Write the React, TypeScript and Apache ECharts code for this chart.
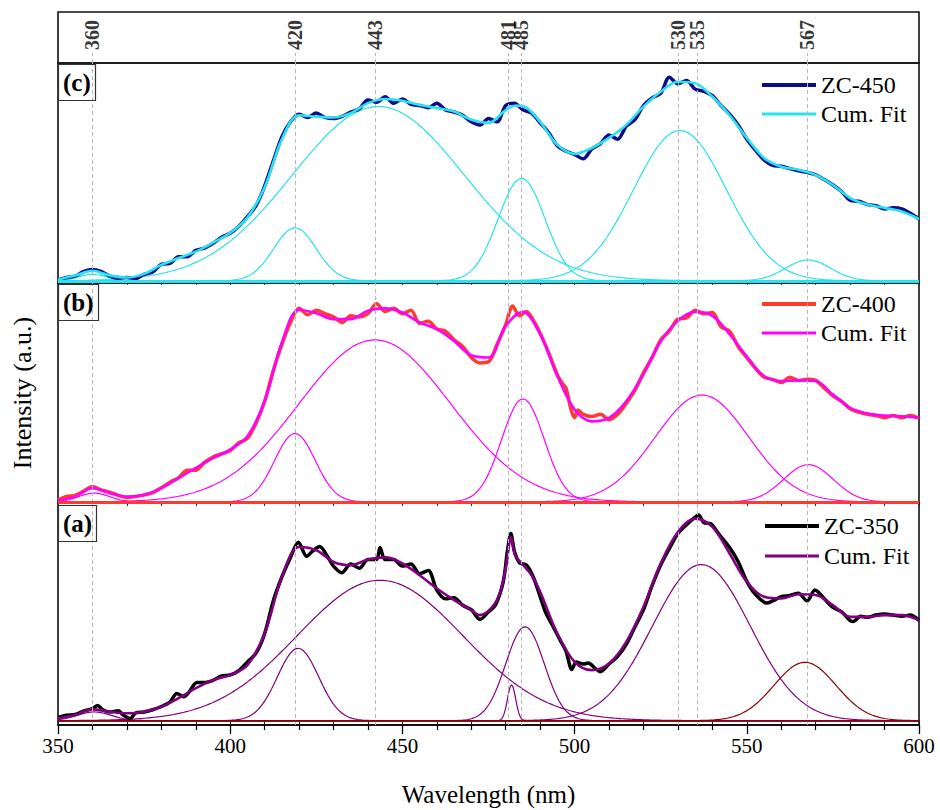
import React, { useEffect, useRef } from 'react';
import * as echarts from 'echarts';

const FONT = 'Liberation Serif';

// positions of the dashed marker lines (nm) and their printed labels
const peakLines = [360, 418.8, 442, 480.8, 484.5, 530, 535.5, 567.5];
const peakLabels = ['360', '420', '443', '481', '485', '530', '535', '567'];

// ---------------- panel (c) ZC-450 ----------------
const rawC: number[][] = [
  [350, 0.3], [352.5, 1.5], [355, 2.2], [357.5, 4.3], [360, 5.2], [362.5, 4.3], [365, 2.2], [367.5, 1.2], [370, 1.5], [372.5, 1.0],
  [375, 3.0], [377.5, 4.0], [380, 7.6], [382.5, 8.0], [385, 11.0], [387.5, 11.0], [390, 14.0], [392.5, 15.0], [395, 17.2], [397.5, 20.0],
  [400, 21.8], [402.5, 25.0], [405, 29.5], [407.5, 34.5], [410, 43.5], [412.5, 55], [415, 66], [417.5, 73], [420, 76.5], [422.5, 75],
  [425, 77], [427.5, 75], [430, 74.5], [432.5, 75.5], [435, 77.5], [437.5, 79], [440, 83], [442.5, 82], [445, 84.5], [447.5, 81.5],
  [450, 83.5], [452.5, 81], [455, 80.5], [457.5, 79.5], [460, 81.5], [462.5, 78.5], [465, 77.5], [467.5, 76], [470, 73], [472.5, 71.5],
  [475, 74.5], [477.5, 73], [480, 80.5], [482.5, 81.5], [485, 78.5], [487.5, 77], [490, 72.5], [492.5, 68], [495, 62], [497.5, 59.5],
  [500, 58], [502.5, 56], [505, 60.5], [507.5, 63], [510, 67], [512.5, 65], [515, 71], [517.5, 74], [520, 80.5], [522.5, 84],
  [525, 86], [527.5, 93.5], [530, 90.5], [532.5, 92], [535, 88], [537.5, 87], [540, 85], [542.5, 80.5], [545, 76.5], [547.5, 71.5],
  [550, 65], [552.5, 60], [555, 55.5], [557.5, 53], [560, 52.6], [562.5, 51.5], [565, 50.5], [567.5, 49.8], [570, 48.7], [572.5, 46.5],
  [575, 44], [577.5, 41], [580, 37], [582.5, 36.5], [585, 35], [587.5, 34.5], [590, 33], [592.5, 33.5], [595, 33], [597.5, 31], [600, 28.4],
];
const fitC: number[][] = [
  [350, 0.5], [355, 2.5], [360, 4.6], [365, 2.5], [370, 1.5], [375, 3.2], [380, 7.3], [385, 10.5], [390, 13.4], [395, 17.5],
  [400, 22], [405, 29], [410, 43], [415, 65], [420, 76], [425, 75.4], [430, 75], [435, 77], [440, 81.6], [445, 83.5],
  [450, 82.7], [455, 80.7], [460, 79.3], [465, 77.7], [470, 73.9], [475, 72.5], [480, 78.4], [483, 80.5], [486, 79.5], [490, 73],
  [495, 62.4], [500, 58.3], [505, 61], [510, 65.6], [515, 71.6], [520, 80], [525, 86.8], [530, 91.4], [535, 90.7], [540, 84.5],
  [545, 76], [550, 65.6], [555, 56.4], [560, 52.4], [565, 51], [570, 48.6], [575, 44], [580, 38], [585, 35], [590, 33.5], [595, 31.8], [600, 28.4],
];
const peakCenterC = [360, 418.8, 443, 484.6, 530.6, 567.8];
const peakHeightC = [3, 24.3, 80, 47, 69, 9.6];
const peakSigmaC = [4, 6.2, 25, 6.8, 13.5, 6.5];

// ---------------- panel (b) ZC-400 ----------------
const rawB: number[][] = [
  [350, 0.8], [352.5, 2.5], [355, 3], [357.5, 5], [360, 7], [362.5, 5.5], [365, 4.5], [367.5, 3], [370, 2], [372.5, 2.5],
  [375, 3.2], [377.5, 4.2], [380, 6.5], [382.5, 9], [385, 11], [387.5, 14.5], [390, 14.5], [392.5, 18], [395, 20.5], [397.5, 22],
  [400, 23.5], [402.5, 27], [405, 29], [407.5, 36], [410, 46], [412.5, 60], [415, 72], [417.5, 82], [420, 88.5], [422.5, 85.5],
  [425, 87.5], [427.5, 86], [430, 84.5], [432.5, 82], [435, 85], [437.5, 84.5], [440, 86], [442.5, 90.5], [445, 87], [447.5, 88.5],
  [450, 86], [452.5, 87.5], [455, 81.5], [457.5, 82.5], [460, 79], [462.5, 78], [465, 74], [467.5, 71], [470, 66], [472.5, 63.5],
  [475, 64], [477.5, 72], [480, 81], [482, 89.5], [484, 85], [486, 87], [488, 83], [490, 77], [492.5, 68], [495, 58],
  [496.5, 54], [497.5, 52], [499, 42], [500, 38.5], [501, 42], [502.5, 40], [505, 39], [507.5, 40], [510, 37.5], [512.5, 40],
  [515, 45], [517.5, 51], [520, 59], [522.5, 66], [525, 74], [527.5, 78], [530, 83.5], [532.5, 84], [535, 87.5], [537.5, 86],
  [540, 86.5], [542.5, 80], [545, 78], [547.5, 71], [550, 66], [552.5, 61], [555, 57], [557.5, 56], [560, 54.5], [562.5, 57],
  [565, 55.5], [567.5, 56], [570, 55.5], [572.5, 52], [575, 48.5], [577.5, 46], [580, 42.5], [582.5, 41], [585, 40], [587.5, 39.5],
  [590, 38.5], [592.5, 39.5], [595, 38.5], [597.5, 39.5], [600, 38.2],
];
const fitB: number[][] = [
  [350, 0.6], [355, 2.4], [360, 6.3], [365, 4], [370, 2.4], [375, 3.2], [380, 6.3], [385, 10.9], [390, 15.5], [395, 20],
  [400, 23.9], [405, 30], [410, 46], [415, 72.8], [420, 87.8], [425, 86.2], [430, 83.5], [435, 83.5], [440, 87.3], [445, 88.4],
  [450, 86.5], [455, 82], [460, 78.9], [465, 73.5], [470, 67], [475, 66], [480, 80.4], [485, 86.8], [490, 76.6], [495, 57.5],
  [500, 42.2], [505, 36.8], [510, 38.4], [515, 46], [520, 58.3], [525, 73.3], [530, 82.7], [535, 86.8], [540, 85], [545, 76.6],
  [550, 66.4], [555, 57.5], [560, 55.2], [565, 55.5], [570, 55.2], [575, 49], [580, 43], [585, 40.4], [590, 39.4], [595, 39.1], [600, 38.4],
];
const peakCenterB = [360.5, 418.8, 442, 485, 537, 567.9];
const peakHeightB = [4, 31.2, 74, 47, 48.8, 17];
const peakSigmaB = [4.5, 5.9, 22, 6.2, 13.6, 7.2];

// ---------------- panel (a) ZC-350 ----------------
const rawA: number[][] = [
  [350, 1.5], [352.5, 2.5], [355, 2.8], [357.5, 4.5], [360, 5.5], [361.5, 7], [363, 5], [365, 4], [367.5, 4.5], [369, 2.5],
  [371, 1], [372.5, 3.5], [375, 4], [377.5, 5], [380, 6.5], [382.5, 8.5], [384.5, 12.5], [386.5, 11], [388, 13], [390.3, 17.5],
  [392.5, 17.5], [395, 18.5], [397.5, 20.5], [400, 21], [402.5, 23], [405, 27], [407.5, 31], [410, 40], [412.5, 55], [415, 66],
  [417.5, 75], [419.8, 82], [422.2, 75.5], [424, 78], [426, 80], [428, 76], [430, 71], [432.4, 68], [435, 72], [437.5, 70],
  [440, 74], [442.5, 74], [443.5, 79.5], [445, 74], [447.5, 74], [450, 71], [452.5, 72], [455, 67.5], [457.5, 69], [460, 60],
  [462.5, 56], [465, 56.5], [467.5, 53], [470, 51], [472.5, 46.5], [475, 50], [477, 53], [479.3, 64], [480.5, 78], [481.5, 86],
  [482.5, 78], [484, 72.5], [486, 71.5], [488, 66], [490, 57], [491.5, 50], [493.5, 44], [495.8, 37], [497.5, 32], [499.2, 23.5],
  [500.5, 27], [502.5, 26], [504, 26.5], [506, 24], [507.5, 22.5], [510, 26], [512.5, 29.5], [515, 35], [517.5, 43], [520, 51],
  [522.5, 62], [525, 71.5], [527.5, 79], [530, 86], [532.5, 90], [535, 93.5], [536, 94.5], [537.5, 91], [539.5, 90.5], [542, 85.5],
  [545, 79.5], [547.5, 73], [550, 64], [552.5, 58], [555.8, 54], [557.5, 55], [560, 57], [562.5, 57.5], [565, 58.5], [567.5, 55],
  [569.8, 60], [572.5, 56], [575, 52], [577.5, 50], [580, 46], [581, 45.5], [583, 48], [585, 47.5], [587.5, 48.5], [590, 49],
  [592.5, 48.5], [595, 48], [597.5, 48.5], [600, 46],
];
const fitA: number[][] = [
  [350, 1.1], [355, 2.6], [360, 5.2], [365, 4.1], [370, 3.4], [375, 4.1], [380, 6.4], [385, 10.3], [390, 14.9], [395, 18.7],
  [400, 21], [405, 25.5], [410, 40], [415, 66], [420, 79.8], [425, 78.3], [430, 72.9], [435, 71.4], [440, 74], [445, 75],
  [450, 72.2], [455, 66.8], [460, 60.7], [465, 55.4], [470, 50.8], [472.5, 48.5], [476, 52], [478.5, 59.5], [480.3, 73], [481.5, 84.5],
  [482.7, 76], [484.6, 72.3], [487.5, 66.8], [490, 59.2], [495, 40], [500, 27], [505, 23.2], [510, 26.3], [515, 36.2], [520, 52.3],
  [525, 72.2], [530, 86.7], [535, 92.8], [540, 89], [545, 76.8], [550, 63.8], [555, 56.9], [560, 56.1], [565, 58.1], [570, 57.7],
  [575, 53.1], [580, 47.7], [585, 47.7], [590, 48.5], [595, 48.5], [600, 46.2],
];
const peakCenterA = [360.5, 419.7, 443.5, 481.7, 485.6, 536.8, 566.9];
const peakHeightA = [4, 33.2, 64.5, 16.4, 43.1, 71.7, 26.8];
const peakSigmaA = [5, 6, 24, 1.2, 5.6, 14.2, 9];

// Gaussian component drawn from its fitted centre / height / width
function gaussian(center: number, height: number, sigma: number): number[][] {
  const step = sigma < 3 ? 0.2 : 0.5;
  const pts: number[][] = [];
  for (let x = 350; x <= 600.0001; x += step) {
    pts.push([+x.toFixed(2), height * Math.exp(-((x - center) ** 2) / (2 * sigma * sigma))]);
  }
  return pts;
}

export default function App() {
  const ref = useRef<HTMLDivElement>(null);

  useEffect(() => {
    if (!ref.current) return;
    const chart = echarts.init(ref.current, undefined, { renderer: 'svg' });

    const panels = [
      {
        grid: 1, rawName: 'ZC-450', fitName: 'Cum. Fit (c)', raw: rawC, fit: fitC,
        centers: peakCenterC, heights: peakHeightC, sigmas: peakSigmaC,
        rawColor: '#0b0b8c', fitColor: '#25e3f0', compColors: peakCenterC.map(() => '#25e3f0'),
        baseColor: '#25e3f0', baseWidth: 3, legendLeft: 762, legendRows: [85, 114],
      },
      {
        grid: 2, rawName: 'ZC-400', fitName: 'Cum. Fit (b)', raw: rawB, fit: fitB,
        centers: peakCenterB, heights: peakHeightB, sigmas: peakSigmaB,
        rawColor: '#ff3a2e', fitColor: '#ff00ff', compColors: peakCenterB.map(() => '#ff00ff'),
        baseColor: '#ff3a2e', baseWidth: 3, legendLeft: 762, legendRows: [304, 333],
      },
      {
        grid: 3, rawName: 'ZC-350', fitName: 'Cum. Fit (a)', raw: rawA, fit: fitA,
        centers: peakCenterA, heights: peakHeightA, sigmas: peakSigmaA,
        rawColor: '#000000', fitColor: '#800080',
        compColors: peakCenterA.map((c) => (c > 560 ? '#8b0000' : '#800080')),
        baseColor: '#8b0000', baseWidth: 1.5, legendLeft: 765, legendRows: [526, 556],
      },
    ];

    const series: any[] = [];

    // top strip: labels of the marked wavelengths
    series.push({
      type: 'scatter',
      xAxisIndex: 0,
      yAxisIndex: 0,
      symbolSize: 1,
      itemStyle: { color: 'rgba(0,0,0,0)' },
      silent: true,
      data: peakLines.map((x) => [x, 0.55]),
      label: {
        show: true,
        position: 'inside',
        rotate: 90,
        formatter: (p: any) => peakLabels[p.dataIndex],
        fontFamily: FONT,
        fontWeight: 'bold',
        fontSize: 20,
        color: '#000',
        textBorderWidth: 0,
      },
      markLine: {
        silent: true,
        symbol: ['none', 'none'],
        label: { show: false },
        lineStyle: { type: [4, 3], color: '#b8b8b8', width: 1 },
        data: peakLines.map((x) => [{ coord: [x, 0] }, { coord: [x, 0.2] }]),
      },
    });

    panels.forEach((p) => {
      const xi = p.grid;
      const yi = p.grid;
      p.centers.forEach((c, k) => {
        const s: any = {
          name: `${p.rawName} peak ${k + 1}`,
          type: 'line',
          xAxisIndex: xi,
          yAxisIndex: yi,
          symbol: 'none',
          showSymbol: false,
          silent: true,
          z: 2,
          lineStyle: { width: 1.2, color: p.compColors[k] },
          data: gaussian(c, p.heights[k], p.sigmas[k]),
        };
        if (k === 0) {
          s.markLine = {
            silent: true,
            symbol: ['none', 'none'],
            label: { show: false },
            data: [
              ...peakLines.map((x) => ({ xAxis: x, lineStyle: { type: [4, 3], color: '#b8b8b8', width: 1 } })),
              { yAxis: 0, lineStyle: { type: 'solid', color: p.baseColor, width: p.baseWidth } },
            ],
          };
        }
        series.push(s);
      });
      series.push({
        name: p.rawName,
        type: 'line',
        xAxisIndex: xi,
        yAxisIndex: yi,
        symbol: 'none',
        showSymbol: false,
        smooth: 0.3,
        z: 3,
        itemStyle: { color: p.rawColor },
        lineStyle: { width: 3.5, color: p.rawColor },
        data: p.raw,
      });
      series.push({
        name: p.fitName,
        type: 'line',
        xAxisIndex: xi,
        yAxisIndex: yi,
        symbol: 'none',
        showSymbol: false,
        smooth: 0.35,
        z: 4,
        itemStyle: { color: p.fitColor },
        lineStyle: { width: 2.6, color: p.fitColor },
        data: p.fit,
      });
    });

    const gridBase = { left: 58, right: 21, show: true, borderColor: '#111', borderWidth: 1.6, backgroundColor: 'transparent' };

    const panelTopAxis = (gridIndex: number) => ({
      type: 'value', gridIndex, position: 'top', min: 350, max: 600, interval: 10,
      axisLine: { show: false },
      axisTick: { show: true, inside: true, length: 4, lineStyle: { color: '#222' } },
      axisLabel: { show: false },
      splitLine: { show: false },
    });

    const panelY = (gridIndex: number, min: number, extra: any = {}) => ({
      type: 'value', gridIndex, min, max: 100,
      axisLine: { show: false }, axisTick: { show: false }, axisLabel: { show: false }, splitLine: { show: false },
      ...extra,
    });

    const legends: any[] = [];
    panels.forEach((p) => {
      [
        { name: p.rawName, h: 4, row: p.legendRows[0] },
        { name: p.fitName, h: 3, row: p.legendRows[1] },
      ].forEach((it) => {
        legends.push({
          data: [it.name],
          icon: 'rect',
          orient: 'vertical',
          left: p.legendLeft,
          top: it.row - 12,
          padding: 0,
          itemWidth: 54,
          itemHeight: it.h,
          selectedMode: false,
          formatter: (n: string) => n.replace(/ \([abc]\)$/, ''),
          textStyle: { fontFamily: FONT, fontSize: 24, lineHeight: 24, color: '#000' },
        });
      });
    });

    const option: any = {
      animation: false,
      backgroundColor: '#fff',
      textStyle: { fontFamily: FONT },
      title: [
        { text: '(c)', left: 58, top: 64 },
        { text: '(b)', left: 58, top: 284 },
        { text: '(a)', left: 58, top: 505 },
      ].map((t) => ({
        ...t,
        padding: [6, 5, 6, 5],
        borderColor: '#333',
        borderWidth: 1.2,
        textStyle: { fontFamily: FONT, fontSize: 25, fontWeight: 'bold', color: '#000' },
      })),
      legend: legends,
      grid: [
        { ...gridBase, top: 12, height: 51 },
        { ...gridBase, top: 63, height: 220 },
        { ...gridBase, top: 283, height: 220 },
        { ...gridBase, top: 503, height: 222 },
      ],
      xAxis: [
        { type: 'value', gridIndex: 0, min: 350, max: 600, show: false },
        panelTopAxis(1),
        panelTopAxis(2),
        panelTopAxis(3),
        {
          type: 'value', gridIndex: 3, position: 'bottom', min: 350, max: 600, interval: 50,
          axisLine: { show: true, lineStyle: { color: '#000', width: 1.6 } },
          axisTick: { show: true, length: 9, lineStyle: { color: '#000', width: 1.3 } },
          minorTick: { show: true, splitNumber: 5, length: 5, lineStyle: { color: '#000', width: 1.2 } },
          axisLabel: { fontFamily: FONT, fontSize: 21, color: '#000', margin: 10 },
          splitLine: { show: false },
          name: 'Wavelength (nm)',
          nameLocation: 'middle',
          nameGap: 57,
          nameTextStyle: { fontFamily: FONT, fontSize: 25, color: '#000' },
        },
      ],
      yAxis: [
        { type: 'value', gridIndex: 0, min: 0, max: 1, show: false },
        panelY(1, -1),
        panelY(2, -0.5, {
          name: 'Intensity (a.u.)',
          nameLocation: 'middle',
          nameGap: 23,
          nameTextStyle: { fontFamily: FONT, fontSize: 26, color: '#000' },
        }),
        panelY(3, -2),
      ],
      series,
    };

    chart.setOption(option);
    return () => chart.dispose();
  }, []);

  return <div ref={ref} style={{ position: 'fixed', left: 0, top: 0, width: 940, height: 810 }} />;
}
